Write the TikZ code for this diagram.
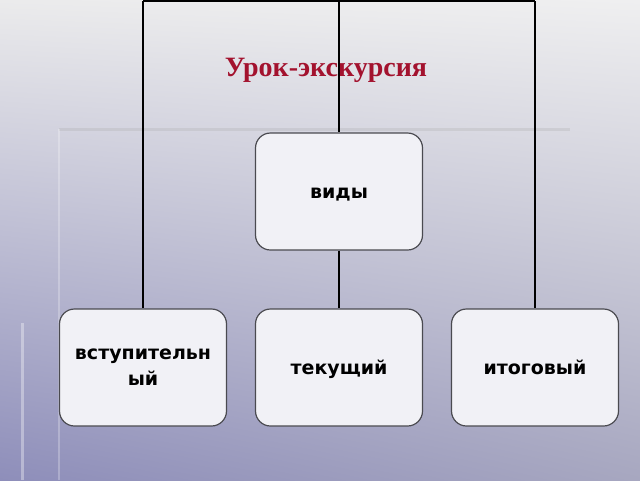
\documentclass[tikz,border=0pt]{standalone}
\usepackage{fontspec}
\setmainfont{Liberation Serif}
\newfontfamily\boxfont{DejaVu Sans}
\usetikzlibrary{shadings}
\definecolor{bgtl}{HTML}{EBEBEC}
\definecolor{bgtr}{HTML}{EFEFF0}
\definecolor{bgbl}{HTML}{8E8EBA}
\definecolor{bgbr}{HTML}{A7A7C0}
\definecolor{titlered}{HTML}{A3122E}
\definecolor{boxfill}{HTML}{F1F1F6}
\definecolor{boxline}{HTML}{4A4A50}
\tikzset{
  kindbox/.style={draw=boxline, line width=1.2pt, fill=boxfill, rounded corners=15pt,
    minimum width=167pt, minimum height=117pt, inner sep=2pt,
    font=\boxfont\bfseries\fontsize{19}{26}\selectfont, align=center, text=black},
  oneline/.style={text height=13pt, text depth=0pt},
  link/.style={draw=black, line width=1.8pt},
}
\begin{document}
\begin{tikzpicture}[x=1pt,y=-1pt]
\useasboundingbox (0,0) rectangle (640,480);
\shade[upper left=bgtl, upper right=bgtr, lower left=bgbl, lower right=bgbr] (0,0) rectangle (640,480);
% background decorations
\draw[line width=3pt, gray!70, opacity=0.25] (59,129) -- (570,129);
\draw[line width=2pt, white, opacity=0.25] (59,129) -- (59,480);
\draw[line width=3pt, white, opacity=0.35] (22,323) -- (22,480);
% title
\node (title) at (326,70) {\color{titlered}\bfseries\fontsize{28}{32}\selectfont Урок-экскурсия};
% boxes
\node[kindbox, oneline] (v) at (339,191.5) {виды};
\node[kindbox] (a) at (143,367.5) {вступительн\\ый};
\node[kindbox, oneline] (b) at (339,367.5) {текущий};
\node[kindbox, oneline] (c) at (535,367.5) {итоговый};
\coordinate (t1) at (143,1);
\coordinate (t2) at (339,1);
\coordinate (t3) at (535,1);
\draw[link] (t1) -- (t3);
\draw[link] (t1) -- (a.north);
\draw[link] (t2) -- (v.north);
\draw[link] (v.south) -- (b.north);
\draw[link] (t3) -- (c.north);
\end{tikzpicture}
\end{document}
